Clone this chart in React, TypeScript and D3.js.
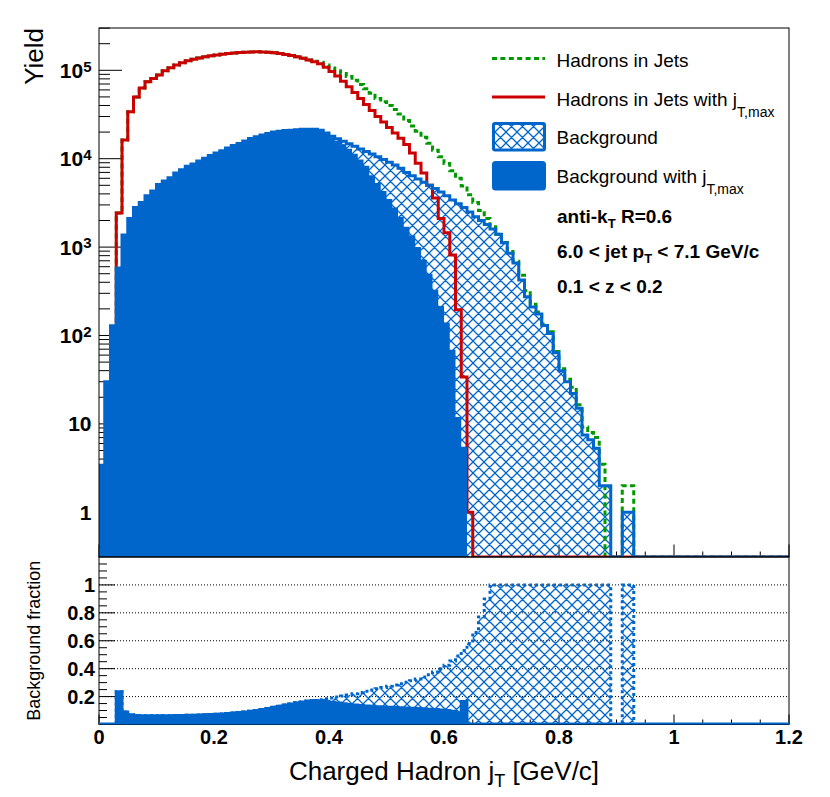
import * as d3 from "d3";
import React, { useEffect, useRef } from "react";

// bins of 0.01 in jT, starting at jT = 0
const binWidth = 0.01;

// Hadrons in Jets (green dashed)
const hadrons = [
  0, 0, 0, 2430, 16300, 34000, 50000, 63000, 74000, 81000,
  88500, 99000, 107000, 115000, 122000, 128000, 133000, 138000, 142000, 146000,
  149000, 152000, 155000, 157000, 159000, 160500, 161500, 162000, 161500, 160000,
  158000, 155000, 151000, 147000, 142000, 137000, 131000, 127000, 123000, 115000,
  106000, 99000, 92000, 85000, 77000, 69000, 62000, 55000, 48000, 44000,
  40000, 36000, 32000, 27000, 23500, 20500, 17500, 15000, 12500, 10500,
  8800, 7300, 6000, 4900, 3900, 3200, 2600, 2100, 1700, 1400,
  1130, 890, 690, 480, 320, 225, 185, 135, 110, 66,
  42, 32, 26, 16.5, 9.2, 8, 7, 3.5, 0, 0,
  0, 2, 2,
];

// Hadrons in Jets with jT,max (red)
const hadronsJtMax = [
  0, 0, 0, 2430, 16300, 34000, 50000, 63000, 74000, 81000,
  88500, 99000, 107000, 115000, 122000, 128000, 133000, 138000, 142000, 146000,
  149000, 152000, 155000, 157000, 159000, 160500, 161500, 162000, 161500, 160000,
  158000, 155000, 151000, 147000, 142000, 137000, 131000, 125000, 119000, 108000,
  97000, 86000, 75000, 65000, 56000, 48000, 41000, 35000, 30000, 26000,
  22500, 19500, 17000, 14500, 11600, 8900, 6900, 5000, 3600, 2100,
  1450, 815, 195, 34, 1,
];

// Background (hatched)
const background = [
  3.4, 30, 129, 580, 1370, 2100, 2800, 3200, 3800, 4300,
  5100, 5600, 6100, 6900, 7500, 8200, 8700, 9400, 10100, 10900,
  11600, 12300, 13200, 14100, 14900, 15900, 16900, 17700, 18500, 19300,
  20100, 20500, 20800, 21000, 21300, 21500, 21600, 21600, 21000, 19500,
  18000, 16800, 15800, 14800, 13800, 12900, 12100, 11300, 10500, 9800,
  9100, 8500, 7800, 7000, 6400, 5900, 5400, 5000, 4600, 4200,
  3800, 3400, 3100, 2800, 2500, 2200, 2000, 1800, 1600, 1400,
  1120, 850, 660, 425, 275, 210, 175, 130, 105, 64,
  40, 30, 22, 15, 7.5, 6.6, 5.3, 2, 2, 0,
  0, 1, 1,
];

// Background with jT,max (filled)
const backgroundJtMax = [
  3.4, 30, 129, 580, 1370, 2100, 2800, 3200, 3800, 4300,
  5100, 5600, 6100, 6900, 7500, 8200, 8700, 9400, 10100, 10900,
  11600, 12300, 13200, 14100, 14900, 15900, 16900, 17700, 18500, 19300,
  20100, 20500, 20800, 21000, 21300, 21500, 21600, 21600, 20500, 19000,
  17500, 16000, 14600, 13000, 11400, 9800, 8300, 6500, 5300, 4300,
  3500, 2800, 2200, 1700, 1350, 1000, 720, 500, 330, 215,
  140, 69, 12, 5.5,
];

// lower panel: background fraction
const bkgFraction = [
  0, 0, 0, 0.235, 0.09, 0.07, 0.065, 0.063, 0.062, 0.062,
  0.062, 0.063, 0.063, 0.064, 0.065, 0.066, 0.067, 0.068, 0.07, 0.072,
  0.074, 0.076, 0.079, 0.082, 0.086, 0.09, 0.095, 0.101, 0.108, 0.115,
  0.123, 0.131, 0.139, 0.147, 0.155, 0.162, 0.168, 0.172, 0.178, 0.184,
  0.19, 0.197, 0.204, 0.212, 0.22, 0.229, 0.238, 0.247, 0.256, 0.265,
  0.274, 0.283, 0.292, 0.302, 0.313, 0.326, 0.34, 0.357, 0.377, 0.4,
  0.425, 0.455, 0.49, 0.53, 0.58, 0.66, 0.77, 0.9, 1, 1,
  1, 1, 1, 1, 1, 1, 1, 1, 1, 1,
  1, 1, 1, 1, 1, 1, 1, 1, 1, 0,
  0, 1, 1,
];

const bkgFractionJtMax = [
  0, 0, 0, 0.235, 0.09, 0.07, 0.065, 0.063, 0.062, 0.062,
  0.062, 0.063, 0.063, 0.064, 0.065, 0.066, 0.067, 0.068, 0.07, 0.072,
  0.074, 0.076, 0.079, 0.082, 0.086, 0.09, 0.095, 0.101, 0.108, 0.115,
  0.123, 0.131, 0.139, 0.147, 0.155, 0.162, 0.168, 0.172, 0.171, 0.166,
  0.16, 0.154, 0.149, 0.144, 0.14, 0.136, 0.133, 0.13, 0.128, 0.126,
  0.124, 0.122, 0.12, 0.118, 0.116, 0.114, 0.112, 0.11, 0.107, 0.104,
  0.1, 0.095, 0.085, 0.165,
];

// tick labels
const yieldTicks = [1, 10, 100, 1000, 10000, 100000];
const yieldTickBase = ["1", "10", "10", "10", "10", "10"];
const yieldTickExp = ["", "", "2", "3", "4", "5"];
const fracTicks = [0.2, 0.4, 0.6, 0.8, 1];
const fracTickLabels = ["0.2", "0.4", "0.6", "0.8", "1"];
const xTicks = [0, 0.2, 0.4, 0.6, 0.8, 1, 1.2];
const xTickLabels = ["0", "0.2", "0.4", "0.6", "0.8", "1", "1.2"];

const W = 830, H = 797;
const left = 99, right = 789, top = 28, split = 557, bottom = 724.5;
const blue = "#0066cc", red = "#cc0000", green = "#009900";
const font = "'Liberation Sans', Arial, Helvetica, sans-serif";

// histogram outline: baseline -> steps -> baseline
function steps(vals: number[], extend = false) {
  const pts: [number, number][] = [[0, 0]];
  vals.forEach((v, i) => {
    pts.push([i * binWidth, v], [(i + 1) * binWidth, v]);
  });
  pts.push([vals.length * binWidth, 0]);
  if (extend) pts.push([1.2, 0]);
  return pts;
}

function drawChart(el: SVGSVGElement) {
  const svg = d3.select(el);
  svg.selectAll("*").remove();

  const x = d3.scaleLinear().domain([0, 1.2]).range([left, right]);
  const yMin = 0.312, yMax = 3.01e5;
  const y = d3.scaleLog().domain([yMin, yMax]).range([split, top]).clamp(true);
  const ylog = (v: number) => y(Math.max(v, yMin));
  const yf = d3.scaleLinear().domain([0, 1.2]).range([bottom, split]);

  const defs = svg.append("defs");
  const pat = defs
    .append("pattern")
    .attr("id", "hatch")
    .attr("patternUnits", "userSpaceOnUse")
    .attr("width", 11)
    .attr("height", 11);
  pat
    .append("path")
    .attr("d", "M-2,2 L2,-2 M0,11 L11,0 M9,13 L13,9 M-2,9 L2,13 M0,0 L11,11 M9,-2 L13,2")
    .attr("stroke", blue)
    .attr("stroke-width", 1.3)
    .attr("fill", "none");
  defs.append("clipPath").attr("id", "clipTop").append("rect")
    .attr("x", left).attr("y", top).attr("width", right - left).attr("height", split - top);
  defs.append("clipPath").attr("id", "clipBot").append("rect")
    .attr("x", left).attr("y", split).attr("width", right - left).attr("height", bottom - split);

  // ---------- top panel ----------
  const axTop = svg.append("g").attr("stroke", "#000").attr("stroke-width", 1);
  // log ticks on the left
  const logTicks: { v: number; major: boolean }[] = [];
  [0.1, 1, 10, 100, 1000, 10000, 100000].forEach(d => {
    for (let k = 1; k <= 9; k++) {
      const v = k * d;
      if (v >= yMin && v <= yMax) logTicks.push({ v, major: k === 1 });
    }
  });
  axTop.selectAll("line.ly").data(logTicks).join("line")
    .attr("x1", left).attr("x2", d => left + (d.major ? 23 : 11))
    .attr("y1", d => y(d.v)).attr("y2", d => y(d.v));
  // x ticks on the bottom of the top panel
  const xMinor = d3.range(0, 1.2001, 0.05);
  const isMajor = (v: number) => Math.abs(v / 0.2 - Math.round(v / 0.2)) < 1e-6;
  axTop.selectAll("line.tx").data(xMinor).join("line")
    .attr("x1", d => x(d)).attr("x2", d => x(d))
    .attr("y1", split).attr("y2", d => split - (isMajor(d) ? 12.5 : 5.5));

  const lineTop = d3.line<[number, number]>().x(d => x(d[0])).y(d => ylog(d[1]));
  const areaTop = d3.area<[number, number]>().x(d => x(d[0])).y0(split).y1(d => ylog(d[1]));

  const gTop = svg.append("g").attr("clip-path", "url(#clipTop)");
  gTop.append("path").attr("d", areaTop(steps(background))).attr("fill", "url(#hatch)");
  gTop.append("path").attr("d", lineTop(steps(hadrons, true)))
    .attr("fill", "none").attr("stroke", green).attr("stroke-width", 3).attr("stroke-dasharray", "5,3.4");
  gTop.append("path").attr("d", lineTop(steps(hadronsJtMax, true)))
    .attr("fill", "none").attr("stroke", red).attr("stroke-width", 3);
  gTop.append("path").attr("d", lineTop(steps(background, true)))
    .attr("fill", "none").attr("stroke", blue).attr("stroke-width", 3);
  gTop.append("path").attr("d", areaTop(steps(backgroundJtMax))).attr("fill", blue);

  svg.append("rect").attr("x", left).attr("y", top).attr("width", right - left).attr("height", split - top)
    .attr("fill", "none").attr("stroke", "#000").attr("stroke-width", 1);

  // y labels (top)
  const yl = svg.append("g").attr("font-family", font).attr("font-weight", "bold").attr("font-size", 21)
    .attr("text-anchor", "end").attr("fill", "#000");
  yieldTicks.forEach((v, i) => {
    const t = yl.append("text").attr("x", 91.5).attr("y", y(v) + 7.5);
    t.append("tspan").text(yieldTickBase[i]);
    if (yieldTickExp[i]) t.append("tspan").attr("font-size", 15).attr("dy", -6.1).text(yieldTickExp[i]);
  });

  svg.append("text").attr("font-family", font).attr("font-size", 26).attr("text-anchor", "end")
    .attr("transform", "translate(42.5,28) rotate(-90)").text("Yield");

  // legend
  const lg = svg.append("g").attr("font-family", font).attr("font-size", 19).attr("fill", "#000");
  lg.append("line").attr("x1", 492).attr("x2", 545).attr("y1", 58.5).attr("y2", 58.5)
    .attr("stroke", green).attr("stroke-width", 3).attr("stroke-dasharray", "5,3.4");
  lg.append("line").attr("x1", 492).attr("x2", 545).attr("y1", 97).attr("y2", 97)
    .attr("stroke", red).attr("stroke-width", 3);
  lg.append("rect").attr("x", 493.5).attr("y", 123.5).attr("width", 51).attr("height", 26.5).attr("rx", 1.5)
    .attr("fill", "url(#hatch)").attr("stroke", blue).attr("stroke-width", 3);
  lg.append("rect").attr("x", 493.5).attr("y", 162.5).attr("width", 51).attr("height", 26.5).attr("rx", 2)
    .attr("fill", blue).attr("stroke", blue).attr("stroke-width", 3);
  lg.append("text").attr("x", 556.5).attr("y", 66.7).text("Hadrons in Jets");
  const l2 = lg.append("text").attr("x", 556.5).attr("y", 105.7);
  l2.append("tspan").text("Hadrons in Jets with j");
  l2.append("tspan").attr("font-size", 14).attr("dy", 11).text("T,max");
  lg.append("text").attr("x", 556.5).attr("y", 144.3).text("Background");
  const l4 = lg.append("text").attr("x", 556.5).attr("y", 183.3);
  l4.append("tspan").text("Background with j");
  l4.append("tspan").attr("font-size", 14).attr("dy", 11).text("T,max");

  // annotations
  const an = svg.append("g").attr("font-family", font).attr("font-size", 19).attr("font-weight", "bold");
  const a1 = an.append("text").attr("x", 557).attr("y", 223.3);
  a1.append("tspan").text("anti-k");
  a1.append("tspan").attr("font-size", 13).attr("dy", 5).text("T");
  a1.append("tspan").attr("dy", -5).text(" R=0.6");
  const a2 = an.append("text").attr("x", 557).attr("y", 258.3);
  a2.append("tspan").text("6.0 < jet p");
  a2.append("tspan").attr("font-size", 13).attr("dy", 5).text("T");
  a2.append("tspan").attr("dy", -5).text(" < 7.1 GeV/c");
  an.append("text").attr("x", 557).attr("y", 293.3).text("0.1 < z < 0.2");

  // ---------- bottom panel ----------
  svg.append("g").selectAll("line").data(fracTicks).join("line")
    .attr("x1", left).attr("x2", right).attr("y1", d => yf(d)).attr("y2", d => yf(d))
    .attr("stroke", "#000").attr("stroke-width", 1).attr("stroke-dasharray", "1,2");

  const axBot = svg.append("g").attr("stroke", "#000").attr("stroke-width", 1);
  const fMinor = d3.range(0.05, 1.2, 0.05);
  axBot.selectAll("line.fy").data(fMinor).join("line")
    .attr("x1", left).attr("x2", d => left + (isMajor(d) ? 16 : 8))
    .attr("y1", d => yf(d)).attr("y2", d => yf(d));
  axBot.selectAll("line.fx").data(xMinor).join("line")
    .attr("x1", d => x(d)).attr("x2", d => x(d))
    .attr("y1", bottom).attr("y2", d => bottom - (isMajor(d) ? 10 : 5));

  const lineBot = d3.line<[number, number]>().x(d => x(d[0])).y(d => yf(d[1]));
  const areaBot = d3.area<[number, number]>().x(d => x(d[0])).y0(bottom).y1(d => yf(d[1]));

  const gBot = svg.append("g").attr("clip-path", "url(#clipBot)");
  gBot.append("path").attr("d", areaBot(steps(bkgFraction))).attr("fill", "url(#hatch)");
  gBot.append("path").attr("d", lineBot(steps(bkgFraction)))
    .attr("fill", "none").attr("stroke", blue).attr("stroke-width", 3).attr("stroke-dasharray", "3,3");
  // solid fill drawn with its own outline so it hides the dashed line where both agree
  gBot.append("path").attr("d", areaBot(steps(bkgFractionJtMax)))
    .attr("fill", blue).attr("stroke", blue).attr("stroke-width", 3).attr("stroke-linejoin", "miter");

  svg.append("rect").attr("x", left).attr("y", split).attr("width", right - left).attr("height", bottom - split)
    .attr("fill", "none").attr("stroke", "#000").attr("stroke-width", 1);
  svg.append("line").attr("x1", x(0)).attr("x2", x(1.2)).attr("y1", yf(0) - 1).attr("y2", yf(0) - 1)
    .attr("stroke", blue).attr("stroke-width", 2);

  const fl = svg.append("g").attr("font-family", font).attr("font-weight", "bold").attr("font-size", 20);
  fl.selectAll("text").data(fracTicks).join("text")
    .attr("x", 95).attr("y", d => yf(d) + 7).attr("text-anchor", "end")
    .text((d, i) => fracTickLabels[i]);
  const xl = svg.append("g").attr("font-family", font).attr("font-weight", "bold").attr("font-size", 20);
  xl.selectAll("text").data(xTicks).join("text")
    .attr("x", d => x(d)).attr("y", 743.5).attr("text-anchor", "middle")
    .text((d, i) => xTickLabels[i]);

  svg.append("text").attr("font-family", font).attr("font-size", 18).attr("text-anchor", "middle")
    .attr("transform", `translate(39.5,${(split + bottom) / 2}) rotate(-90)`).text("Background fraction");

  const xt = svg.append("text").attr("font-family", font).attr("font-size", 26)
    .attr("text-anchor", "middle").attr("x", 444).attr("y", 780);
  xt.append("tspan").text("Charged Hadron j");
  xt.append("tspan").attr("font-size", 18).attr("dy", 7).text("T");
  xt.append("tspan").attr("dy", -7).text(" [GeV/c]");
}

export default function App() {
  const svgRef = useRef<SVGSVGElement>(null);

  useEffect(() => {
    if (svgRef.current) drawChart(svgRef.current);
  }, []);

  return (
    <svg
      ref={svgRef}
      width={W}
      height={H}
      style={{ position: "absolute", left: 0, top: 0, background: "#fff" }}
    />
  );
}
